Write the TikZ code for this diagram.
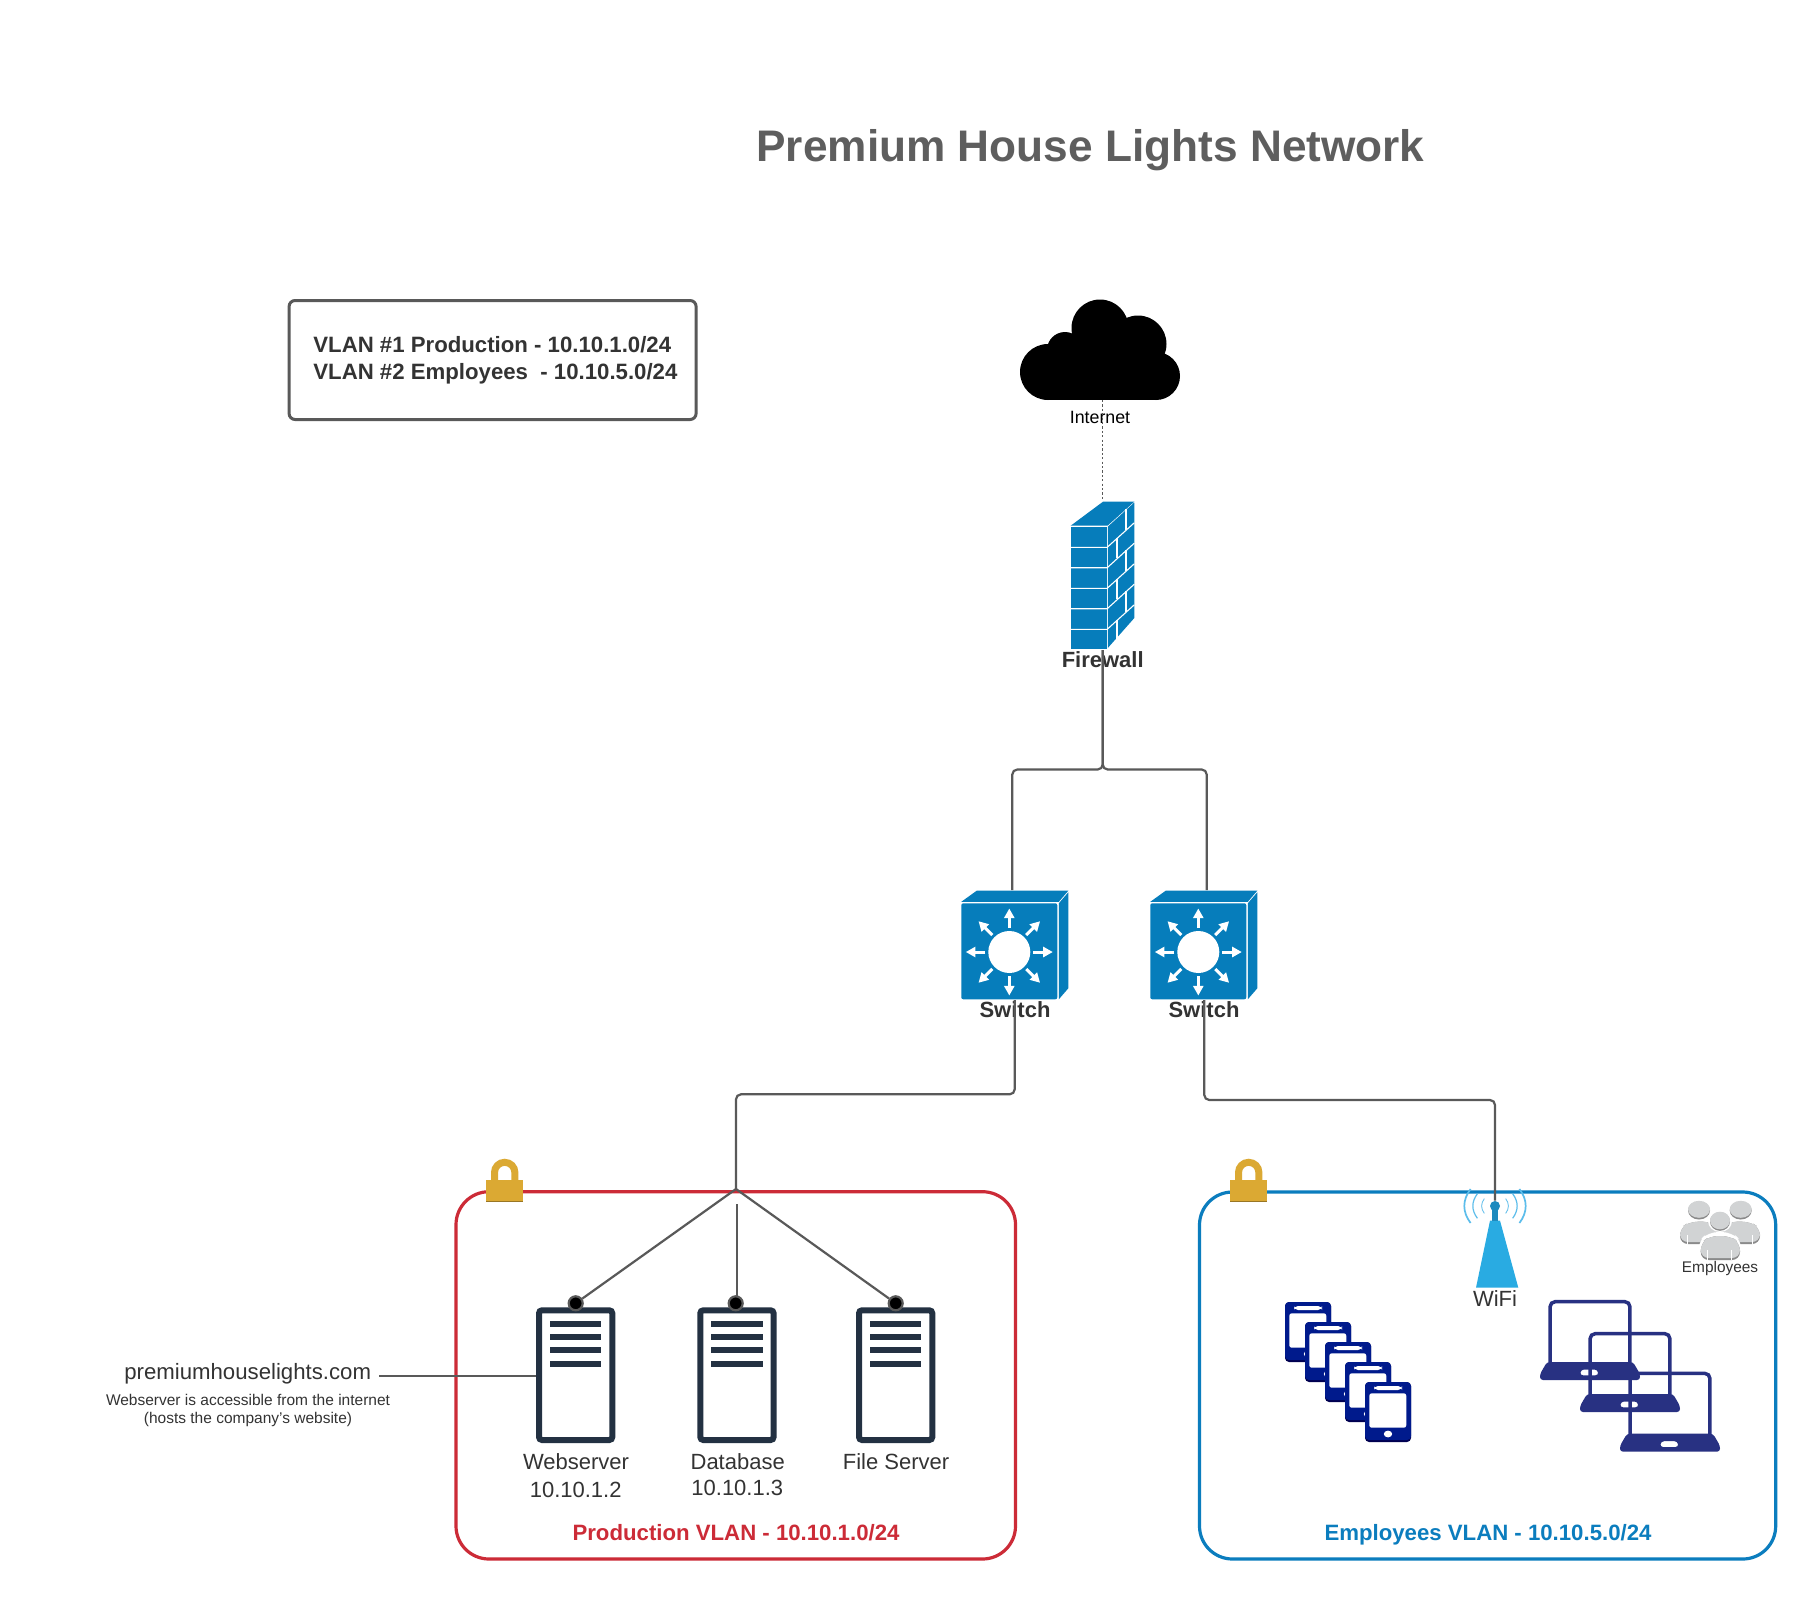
\documentclass[tikz,border=0pt]{standalone}
\usepackage{fontspec}
\setmainfont{Liberation Sans}
\usetikzlibrary{arrows.meta,calc}
\definecolor{wallblue}{HTML}{067DBB}
\definecolor{txt}{HTML}{333333}
\definecolor{titlegray}{HTML}{5E5E5E}
\definecolor{linegray}{HTML}{595959}
\definecolor{prodred}{HTML}{CC2B37}
\definecolor{empblue}{HTML}{0B7DBE}
\definecolor{lockgold}{HTML}{DBA933}
\definecolor{srv}{HTML}{233142}
\definecolor{wifiblue}{HTML}{29ABE2}
\definecolor{wifidark}{HTML}{1E8ABE}
\definecolor{wifilight}{HTML}{5CBDEB}
\definecolor{phoneblue}{HTML}{001A8C}
\definecolor{phonedark}{HTML}{000050}
\definecolor{lapblue}{HTML}{283182}
\definecolor{persongray}{HTML}{D1D3D4}
\definecolor{persondark}{HTML}{8A8A8A}
\newcommand{\fs}[1]{\fontsize{#1}{#1}\selectfont}
\tikzset{
  lbl/.style={anchor=base,inner sep=0pt,text=txt},
  conn/.style={draw=linegray,line width=1.1pt,rounded corners=2.5pt},
  vlanbox/.style={line width=1.6pt,rounded corners=16.5pt},
  mortar/.style={draw=white,line width=0.55pt},
  port/.style={circle,fill=black,draw=linegray,line width=1.1pt,minimum size=7pt,inner sep=0pt},
  swarrow/.style={draw=white,line width=1.5pt,-{Triangle[length=4.8pt,width=5pt]}},
  pics/lockicon/.style={code={
    \draw[lockgold,line width=3.5pt] (-10.2,20) -- (-10.2,-7.5) arc[start angle=180,end angle=0,x radius=10.2,y radius=-10.2] -- (10.2,20);
    \fill[lockgold] (-18.7,0) rectangle (18.7,21.7);
    \fill[lockgold!70!black] (-18.7,21) rectangle (18.7,21.7);
  }},
  pics/switchicon/.style={code={
    \fill[wallblue,rounded corners=1pt] (0,0) rectangle (96,96);
    \fill[wallblue] (0,-1.5) -- (15.4,-12.6) -- (107,-12.6) -- (97.5,-1.5) -- cycle;
    \fill[wallblue] (97.5,0) -- (107,-11) -- (107,85) -- (97.5,96) -- cycle;
    \fill[white] (48,48.7) circle[radius=21];
    \foreach \a in {0,45,...,315}{
      \draw[swarrow] ($(48,48.7)+(\a:24)$) -- ($(48,48.7)+(\a:43.5)$);
    }
  }},
  pics/serverbox/.style={code={
    \draw[srv,line width=3pt,rounded corners=1.5pt] (3,3) rectangle (76.3,132.7);
    \foreach \yy in {16.4,29.7,43,56.7}{
      \fill[srv] (14,\yy-3) rectangle (65.3,\yy+3);
    }
  }},
  pics/phoneicon/.style={code={
    \fill[phonedark,rounded corners=2pt] (0,0) rectangle (46,60);
    \fill[phoneblue,rounded corners=2pt] (0,0) rectangle (46,58);
    \fill[white,rounded corners=1.2pt] (4.3,11.3) rectangle (41.3,45.7);
    \fill[white,rounded corners=2pt] (9,4) rectangle (37,8);
    \fill[white] (23,52) ellipse[x radius=4.2,y radius=3.4];
  }},
  pics/laptopicon/.style={code={
    \draw[lapblue,line width=1.75pt,rounded corners=2.5pt] (10.1,65) -- (10.1,1.7) -- (89.9,1.7) -- (89.9,65);
    \fill[lapblue,even odd rule,rounded corners=1.5pt] (7,62) -- (93,62) -- (100,74) -- (100,80) -- (0,80) -- (0,74) -- cycle
      (40,75.3) -- (41,69.5) -- (57.5,69.5) -- (58.5,75.3) -- cycle;
  }}
}
\begin{document}
\begin{tikzpicture}[x=0.5pt,y=-0.5pt]
\useasboundingbox (0,0) rectangle (1816,1600);
\fill[white] (0,0) rectangle (1816,1600);

% Title
\node[lbl,text=titlegray,font=\fs{22.1pt}\bfseries] (title) at (1090.5,162) {Premium House Lights Network};

% Legend
\node[draw=linegray,line width=1.5pt,rounded corners=3pt,minimum width=203.5pt,minimum height=59.5pt,anchor=north west,inner sep=0pt] (legend) at (287.6,299) {};
\node[anchor=base west,inner sep=0pt,text=txt,font=\fs{11.1pt}\bfseries] (leg1) at (313,352) {VLAN \#1 Production - 10.10.1.0/24};
\node[anchor=base west,inner sep=0pt,text=txt,font=\fs{11.1pt}\bfseries] (leg2) at (313,379) {VLAN \#2 Employees\ \ - 10.10.5.0/24};

% VLAN boxes
\draw[prodred,vlanbox] (456,1191.7) rectangle (1015.5,1559);
\draw[empblue,vlanbox] (1199.5,1192) rectangle (1775.7,1559);
\pic at (504.7,1180) {lockicon};
\pic at (1248.7,1180) {lockicon};
\node[lbl,text=prodred,font=\fs{11.1pt}\bfseries] (prodlbl) at (736,1540) {Production VLAN - 10.10.1.0/24};
\node[lbl,text=empblue,font=\fs{11.1pt}\bfseries] (emplbl) at (1488,1540) {Employees VLAN - 10.10.5.0/24};

% Cloud
\fill[black] (1100,328) circle[radius=28.5];
\fill[black] (1138,344) circle[radius=28.5];
\fill[black] (1065,350) circle[radius=18];
\fill[black] (1048,372) circle[radius=28];
\fill[black] (1156,376) circle[radius=24];
\fill[black] (1048,352) rectangle (1156,400);
\fill[black] (1075,330) rectangle (1140,360);
\node[lbl,text=black,font=\fs{8.9pt}] (internet) at (1100,423) {Internet};

% Firewall
\fill[wallblue] (1070.7,526.7) rectangle (1106.7,649.3);
\fill[wallblue] (1070.7,525.7) -- (1103,501.7) -- (1134.3,501.7) -- (1107.5,525.7) -- cycle;
\fill[wallblue] (1107.8,526.7) -- (1134.3,502.5) -- (1134.3,618) -- (1107.8,648) -- cycle;
\foreach \yy in {547.3,567.7,588.3,608.7,629.3}{
  \draw[mortar] (1070.7,\yy) -- (1107.2,\yy) -- (1134.3,\yy-24.5);
}
\foreach \xx/\yy in {1126/526.7,1117/547.3,1126/567.7,1117/588.3,1126/608.7,1117/629.3}{
  \draw[mortar] (\xx,\yy-\xx*0.9+996) -- ++(0,20.4);
}
\node[lbl,font=\fs{11pt}\bfseries] (fwlbl) at (1102.7,667.7) {Firewall};

% Switches
\pic at (961.3,903.3) {switchicon};
\pic at (1150.3,903.3) {switchicon};
\node[lbl,font=\fs{11pt}\bfseries] (sw1lbl) at (1015,1017.7) {Switch};
\node[lbl,font=\fs{11pt}\bfseries] (sw2lbl) at (1204,1017.7) {Switch};

% Servers
\pic at (536,1307.3) {serverbox};
\pic at (697.3,1307.3) {serverbox};
\pic at (856,1307.3) {serverbox};
\node[lbl,font=\fs{11pt}] (web1) at (576,1469) {Webserver};
\node[lbl,font=\fs{11pt}] (web2) at (575.7,1497) {10.10.1.2};
\node[lbl,font=\fs{11pt}] (db1) at (737.7,1469) {Database};
\node[lbl,font=\fs{11pt}] (db2) at (737.3,1495.5) {10.10.1.3};
\node[lbl,font=\fs{11pt}] (fs1) at (896,1469) {File Server};

% Web link texts
\node[lbl,font=\fs{11.1pt}] (site) at (247.7,1379) {premiumhouselights.com};
\node[lbl,font=\fs{7.75pt}] (site2) at (248,1405) {Webserver is accessible from the internet};
\node[lbl,font=\fs{7.75pt}] (site3) at (248,1423) {(hosts the company's website)};

% WiFi
\fill[wifiblue] (1490,1220.7) -- (1500,1220.7) -- (1518.3,1287.7) -- (1476,1287.7) -- cycle;
\fill[wifidark] (1491.7,1207) rectangle (1498.3,1220.7);
\foreach \s in {1,-1}{
  \foreach \r/\w in {29.8/0.85pt,21.5/0.6pt,13/0.4pt}{
    \draw[wifilight,line width=\w] ($(1495,1206)+(\s*\r*0.82,-\r*0.57)$) .. controls ($(1495,1206)+(\s*\r*1.1,-\r*0.2)$) and ($(1495,1206)+(\s*\r*1.1,\r*0.2)$) .. ($(1495,1206)+(\s*\r*0.82,\r*0.57)$);
  }
}
\node[lbl,font=\fs{11pt}] (wifilbl) at (1495,1306.7) {WiFi};

% Phones
\foreach \k in {0,1,2,3,4}{
  \pic at (1285+20*\k,1302+20*\k) {phoneicon};
}

% Laptops
\pic at (1540,1300) {laptopicon};
\pic at (1580,1332) {laptopicon};
\pic at (1620,1371.7) {laptopicon};

% Employees icon
\fill[persondark,rounded corners=4pt] (1680,1244) -- (1680,1228) -- (1690,1221.7) -- (1711,1221.7) -- (1720,1230) -- (1720,1244) -- cycle;
\fill[persongray,rounded corners=4pt] (1680,1242) -- (1680,1228) -- (1690,1221.7) -- (1711,1221.7) -- (1720,1230) -- (1720,1242) -- cycle;
\fill[persondark,rounded corners=4pt] (1760,1244) -- (1760,1228) -- (1750,1221.7) -- (1729,1221.7) -- (1720,1230) -- (1720,1244) -- cycle;
\fill[persongray,rounded corners=4pt] (1760,1242) -- (1760,1228) -- (1750,1221.7) -- (1729,1221.7) -- (1720,1230) -- (1720,1242) -- cycle;
\fill[persondark] (1699,1210.5) ellipse[x radius=11,y radius=9];
\fill[persongray] (1699,1209.3) ellipse[x radius=11,y radius=8.5];
\fill[persondark] (1740.7,1210.5) ellipse[x radius=11,y radius=9];
\fill[persongray] (1740.7,1209.3) ellipse[x radius=11,y radius=8.5];
\fill[white] (1707,1240) rectangle (1733,1246);
\fill[white,rounded corners=5pt] (1698,1261) -- (1698,1242) -- (1708,1232) -- (1732,1232) -- (1742,1242) -- (1742,1261) -- cycle;
\fill[persondark,rounded corners=4pt] (1700.7,1260) -- (1700.7,1243) -- (1710,1236) -- (1730,1236) -- (1740,1243) -- (1740,1260) -- cycle;
\fill[persongray,rounded corners=4pt] (1700.7,1258) -- (1700.7,1243) -- (1710,1236) -- (1730,1236) -- (1740,1243) -- (1740,1258) -- cycle;
\fill[white] (1720,1221) ellipse[x radius=12,y radius=11];
\fill[persondark] (1720,1221.5) ellipse[x radius=10,y radius=9.3];
\fill[persongray] (1720,1220.5) ellipse[x radius=10,y radius=8.8];
\foreach \xx in {1687.5,1752}{\draw[white,line width=0.4pt] (\xx,1235) -- (\xx,1244);}
\foreach \xx in {1707.5,1731.5}{\draw[white,line width=0.4pt] (\xx,1250) -- (\xx,1260);}
\node[lbl,font=\fs{7.7pt}] (emps) at (1720,1272) {Employees};

% Connector anchors
\coordinate (cloudB) at (1102.7,400);
\coordinate (fwT) at (1102.7,500);
\coordinate (fwB) at (1102.7,650);
\coordinate (sw1T) at (1012.3,890);
\coordinate (sw2T) at (1206.7,890);
\coordinate (sw1B) at (1014.7,1000);
\coordinate (sw2B) at (1204.3,1000);
\coordinate (hub) at (736,1189);
\coordinate (dbT) at (736.7,1204);
\coordinate (dbEnd) at (736.7,1297);
\coordinate (siteR) at (379.3,1375.7);
\coordinate (webL) at (536,1375.7);

% Connectors
\draw[linegray,line width=0.6pt,dash pattern=on 1.1pt off 1.1pt] (cloudB) -- (fwT);
\draw[conn] (fwB) |- ($(sw1T)+(0,-120.5)$) -- (sw1T);
\draw[conn] (fwB) |- ($(sw2T)+(0,-120.5)$) -- (sw2T);
\draw[conn] (sw1B) |- ($(hub)+(0,-94.7)$) -- (hub);
\node[circle,fill=wifidark,minimum size=5pt,inner sep=0pt] (wifiT) at (1495,1206) {};
\draw[conn] (sw2B) |- ($(wifiT)+(0,-106)$) -- (wifiT);
\draw[conn] (siteR) -- (webL);
\node[port] (webP) at (575.7,1303.3) {};
\node[port] (dbP) at (735.7,1303.3) {};
\node[port] (fsP) at (895.7,1303.3) {};
\draw[conn] (hub) -- (webP);
\draw[conn] (hub) -- (fsP);
\draw[conn] (dbT) -- (dbEnd);
\end{tikzpicture}
\end{document}
